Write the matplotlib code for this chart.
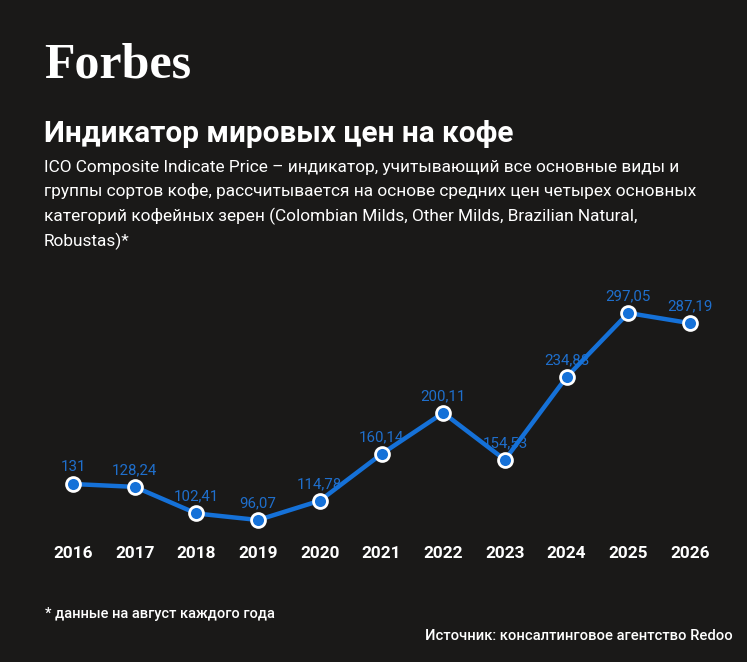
import matplotlib.pyplot as plt
from matplotlib.transforms import blended_transform_factory

years = [2016, 2017, 2018, 2019, 2020, 2021, 2022, 2023, 2024, 2025, 2026]
prices = [131, 128.24, 102.41, 96.07, 114.78, 160.14, 200.11, 154.53, 234.88, 297.05, 287.19]

title = "Индикатор мировых цен на кофе"
subtitle = ("ICO Composite Indicate Price – индикатор, учитывающий все основные виды и\n"
            "группы сортов кофе, рассчитывается на основе средних цен четырех основных\n"
            "категорий кофейных зерен (Colombian Milds, Other Milds, Brazilian Natural,\n"
            "Robustas)*")
footnote = "* данные на август каждого года"
source = "Источник: консалтинговое агентство Redoo"

BG = "#1a1918"
LINE = "#1571d8"
LABEL = "#1f6fcc"

W, H = 747, 662
fig = plt.figure(figsize=(W / 100, H / 100), dpi=100, facecolor=BG)

# header
fig.text(44 / W, 1 - 78 / H, "Forbes", family="Liberation Serif", weight="bold",
         fontsize=36, color="white", va="baseline", ha="left")
fig.text(44 / W, 1 - 142 / H, title, family="Roboto", weight="bold",
         fontsize=21.4, color="white", va="baseline")
fig.text(44 / W, 1 - 160 / H, subtitle, family="Roboto", fontsize=12.4,
         color="white", va="top", linespacing=1.62)

# chart area: positioned so first/last year and min/max values land where they should
x0, x1 = 73, 690
y_lo, y_hi = 520, 313
ax = fig.add_axes([x0 / W, 1 - y_lo / H, (x1 - x0) / W, (y_lo - y_hi) / H])
ax.set_facecolor("none")
ax.set_xlim(years[0], years[-1])
ax.set_ylim(min(prices), max(prices))

ax.plot(years, prices, color=LINE, lw=3.2, zorder=3, clip_on=False,
        marker="o", ms=10, mfc=LINE, mec="white", mew=2)

for x, v in zip(years, prices):
    txt = f"{v:.2f}".replace(".", ",") if v != int(v) else str(int(v))
    ax.annotate(txt, (x, v), xytext=(0, 7), textcoords="offset points",
                ha="center", va="bottom", color=LABEL, fontsize=10.8,
                family="Roboto", zorder=2)

# year labels under the chart
trans = blended_transform_factory(ax.transData, fig.transFigure)
for x in years:
    ax.text(x, 1 - 553 / H, str(x), transform=trans, ha="center", va="center",
            color="white", fontsize=12.4, family="Roboto", weight="bold")

for s in ax.spines.values():
    s.set_visible(False)
ax.set_xticks([])
ax.set_yticks([])

# footer
fig.text(45 / W, 1 - 614 / H, footnote, family="Roboto", weight="medium",
         fontsize=10.5, color="white", va="center")
fig.text(733 / W, 1 - 636 / H, source, family="Roboto", weight="medium",
         fontsize=10.6, color="white", va="center", ha="right")

fig.savefig("out.png", dpi=100, facecolor=BG)
